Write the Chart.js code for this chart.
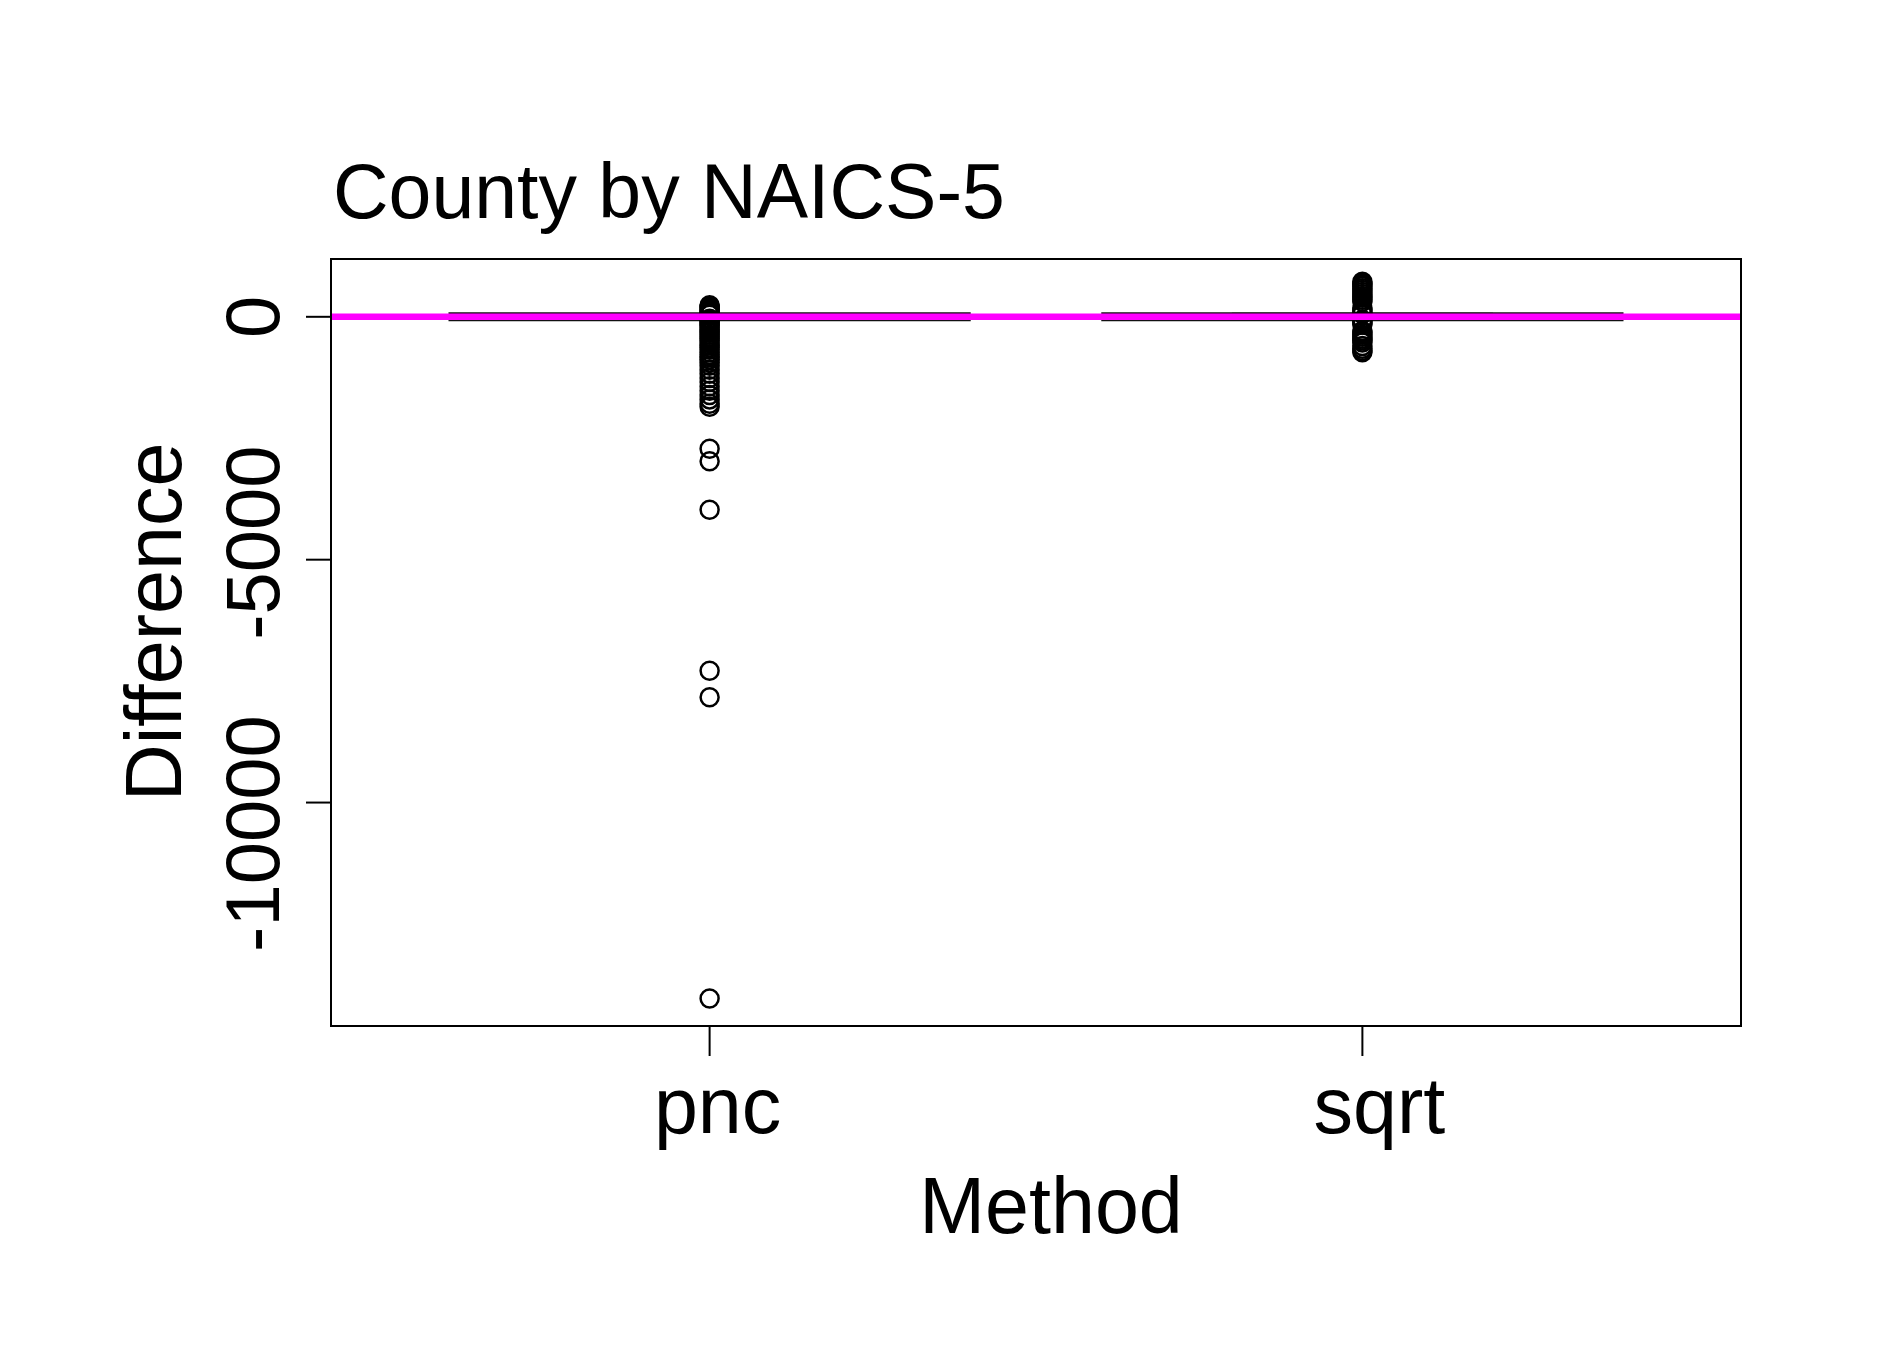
<!DOCTYPE html>
<html>
<head>
<meta charset="utf-8">
<script src="https://cdn.jsdelivr.net/npm/chart.js@4.4.1/dist/chart.umd.min.js"></script>
<style>
  html, body { margin: 0; padding: 0; background: #ffffff; }
  #wrap { width: 1895px; height: 1372px; }
</style>
</head>
<body>
<div id="wrap"><canvas id="c" width="1895" height="1372"></canvas></div>
<script>
// ---------------- data ----------------
const chartTitle = 'County by NAICS-5';
const xTitle = 'Method';
const yTitle = 'Difference';
const categories = ['pnc', 'sqrt'];
const categoryX = [1, 2];
const yTicks = [0, -5000, -10000];
const yTickLabels = ['0', '-5000', '-10000'];
const whiskerLow = [-20, -60];
const boxQ1 = [-8, -15];
const boxMedian = [0, 0];
const boxQ3 = [8, 15];
const whiskerHigh = [20, 65];
const refLineValue = 0;
const pncOutliers = [240, 215, 190, 165, 140, 115, 90, 65, 40, -40, -65, -90, -120, -150,
  -185, -220, -255, -290, -330, -370, -410, -450, -495, -540, -585, -630, -680, -730,
  -780, -830, -880, -940, -1010, -1090, -1170, -1260, -1340, -1430, -1520, -1610, -1700,
  -1790, -1850, -2715, -2973, -3972, -7288, -7834, -14033];
const sqrtOutliers = [720, 690, 660, 630, 590, 550, 510, 470, 430, 390, 350, 310, 170, 130,
  90, 60, -60, -90, -130, -160, -290, -330, -370, -410, -450, -490, -530, -600, -660, -700, -730];
const outlierSets = [pncOutliers, sqrtOutliers];
// --------------------------------------

const FONT = '"Liberation Sans", Arial, Helvetica, sans-serif';
const X_MIN = 0.42, X_MAX = 2.58;
const Y_MIN = -14600, Y_MAX = 1190;
const BOX_WEX = 0.8;
const STAPLE_WEX = 0.5;

const outlierPoints = [];
outlierSets.forEach((set, i) => set.forEach(v => outlierPoints.push({ x: categoryX[i], y: v })));

// small visual nudges of labels seen in the reference
const yLabelShift = { '0': 0, '-5000': -17, '-10000': 31 };
const xLabelShift = { 'pnc': 8, 'sqrt': 17 };

const boxPlugin = {
  id: 'boxes',
  beforeDatasetsDraw(chart) {
    const ctx = chart.ctx;
    const xs = chart.scales.x, ys = chart.scales.y;
    ctx.save();
    categories.forEach((c, i) => {
      const cx = xs.getPixelForValue(categoryX[i]);
      const l = xs.getPixelForValue(categoryX[i] - BOX_WEX / 2);
      const r = xs.getPixelForValue(categoryX[i] + BOX_WEX / 2);
      const hw = (r - l) / 2 * STAPLE_WEX;
      const yq1 = ys.getPixelForValue(boxQ1[i]);
      const yq3 = ys.getPixelForValue(boxQ3[i]);
      const ylo = ys.getPixelForValue(whiskerLow[i]);
      const yhi = ys.getPixelForValue(whiskerHigh[i]);
      const ymed = ys.getPixelForValue(boxMedian[i]);
      ctx.strokeStyle = '#000';
      ctx.lineWidth = 2;
      // whiskers
      ctx.beginPath();
      ctx.moveTo(cx, yq1); ctx.lineTo(cx, ylo);
      ctx.moveTo(cx, yq3); ctx.lineTo(cx, yhi);
      ctx.stroke();
      // staples
      ctx.beginPath();
      ctx.moveTo(cx - hw, ylo); ctx.lineTo(cx + hw, ylo);
      ctx.moveTo(cx - hw, yhi); ctx.lineTo(cx + hw, yhi);
      ctx.stroke();
      // box
      ctx.strokeRect(l, yq3, r - l, yq1 - yq3);
      // median
      ctx.lineWidth = 9;
      ctx.strokeStyle = '#111';
      ctx.beginPath();
      ctx.moveTo(l, ymed); ctx.lineTo(r, ymed);
      ctx.stroke();
    });
    ctx.restore();
  },
  afterDraw(chart) {
    const ctx = chart.ctx;
    const xs = chart.scales.x, ys = chart.scales.y;
    const a = chart.chartArea;
    ctx.save();
    // frame
    ctx.strokeStyle = '#000';
    ctx.lineWidth = 2;
    ctx.strokeRect(a.left, a.top, a.right - a.left, a.bottom - a.top);
    // y ticks & labels
    ctx.fillStyle = '#000';
    yTicks.forEach((v, i) => {
      const py = ys.getPixelForValue(v);
      ctx.beginPath();
      ctx.moveTo(a.left - 25, py); ctx.lineTo(a.left, py);
      ctx.stroke();
      ctx.save();
      ctx.translate(279, py + (yLabelShift[yTickLabels[i]] || 0));
      ctx.rotate(-Math.PI / 2);
      ctx.font = '76px ' + FONT;
      ctx.textAlign = 'center';
      ctx.textBaseline = 'alphabetic';
      ctx.fillText(yTickLabels[i], 0, 0);
      ctx.restore();
    });
    // x ticks & labels
    categories.forEach((c, i) => {
      const px = xs.getPixelForValue(categoryX[i]);
      ctx.beginPath();
      ctx.moveTo(px, a.bottom); ctx.lineTo(px, a.bottom + 30);
      ctx.stroke();
      ctx.font = '79px ' + FONT;
      ctx.textAlign = 'center';
      ctx.textBaseline = 'alphabetic';
      ctx.fillText(c, px + (xLabelShift[c] || 0), 1133);
    });
    // title
    ctx.font = '77px ' + FONT;
    ctx.textAlign = 'left';
    ctx.fillText(chartTitle, 333, 218);
    // x title
    ctx.font = '79px ' + FONT;
    ctx.textAlign = 'center';
    ctx.fillText(xTitle, 1051, 1233);
    // y title
    ctx.save();
    ctx.translate(181, 622);
    ctx.rotate(-Math.PI / 2);
    ctx.font = '79px ' + FONT;
    ctx.textAlign = 'center';
    ctx.fillText(yTitle, 0, 0);
    ctx.restore();
    ctx.restore();
  }
};

new Chart(document.getElementById('c'), {
  type: 'scatter',
  data: {
    datasets: [
      {
        type: 'line',
        label: 'zero',
        data: [{ x: X_MIN, y: refLineValue }, { x: X_MAX, y: refLineValue }],
        borderColor: '#FF00FF',
        borderWidth: 6.5,
        pointRadius: 0,
        fill: false,
        order: 0
      },
      {
        label: 'outliers',
        data: outlierPoints,
        pointStyle: 'circle',
        pointRadius: 9,
        pointBorderWidth: 2.5,
        borderColor: '#000',
        backgroundColor: 'rgba(0,0,0,0)',
        pointBackgroundColor: 'rgba(0,0,0,0)',
        pointBorderColor: '#000',
        order: 1
      }
    ]
  },
  options: {
    responsive: false,
    maintainAspectRatio: false,
    devicePixelRatio: 1,
    animation: false,
    layout: { padding: { left: 331, right: 154, top: 259, bottom: 346 } },
    plugins: { legend: { display: false }, tooltip: { enabled: false }, title: { display: false } },
    scales: {
      x: { type: 'linear', min: X_MIN, max: X_MAX, display: false },
      y: { type: 'linear', min: Y_MIN, max: Y_MAX, display: false }
    }
  },
  plugins: [boxPlugin]
});
</script>
</body>
</html>
